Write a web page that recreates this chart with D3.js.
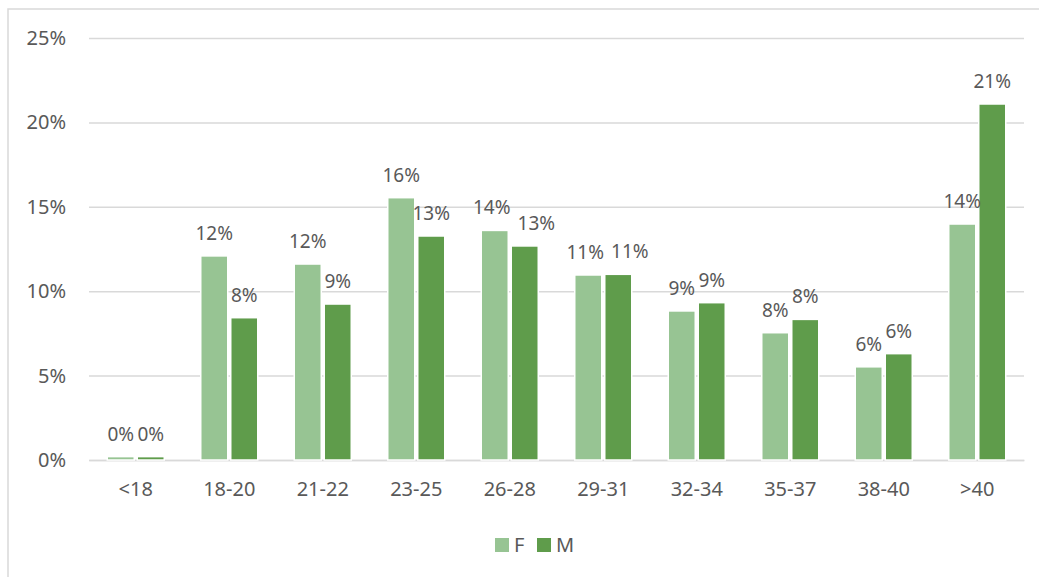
<!DOCTYPE html>
<html>
<head>
<meta charset="utf-8">
<script src="https://cdn.jsdelivr.net/npm/d3@7"></script>
<style>
  body { margin: 0; background: #fff; }
  svg { display: block; font-family: "Noto Sans", "Open Sans", sans-serif; }
</style>
</head>
<body>
<svg id="chart" width="1039" height="577"></svg>
<script>
const categories = ["<18", "18-20", "21-22", "23-25", "26-28", "29-31", "32-34", "35-37", "38-40", ">40"];
const seriesF = [0.20, 12.09, 11.61, 15.54, 13.60, 10.96, 8.83, 7.54, 5.52, 13.98];
const seriesM = [0.20, 8.43, 9.24, 13.27, 12.68, 11.00, 9.32, 8.33, 6.30, 21.09];
const yTicks = [0, 5, 10, 15, 20, 25];

const series = [
  { key: "F", values: seriesF, color: "#97c493" },
  { key: "M", values: seriesM, color: "#5f9c4b" },
];

const svg = d3.select("#chart");
const TEXT = "#595959";
const GRID = "#d9d9d9";

// outer chart border (right/bottom edges fall outside the window)
svg.append("rect")
  .attr("x", 8).attr("y", 9)
  .attr("width", 1050).attr("height", 590)
  .attr("fill", "none")
  .attr("stroke", GRID)
  .attr("stroke-width", 1.5);

const plot = { left: 89, right: 1024, top: 38, bottom: 460 };

const x = d3.scaleBand()
  .domain(categories)
  .range([plot.left, plot.right]);

const x1 = d3.scaleBand()
  .domain(series.map(s => s.key))
  .range([0, 54])
  .paddingInner(0.2);

const y = d3.scaleLinear()
  .domain([0, 25])
  .range([plot.bottom, plot.top]);

// gridlines + y labels
const yAxis = d3.axisLeft(y)
  .tickValues(yTicks)
  .tickSize(-(plot.right - plot.left))
  .tickPadding(23)
  .tickFormat(d => d + "%");

const yg = svg.append("g")
  .attr("transform", `translate(${plot.left},0)`)
  .call(yAxis);
yg.select(".domain").remove();
yg.selectAll(".tick line").attr("stroke", GRID).attr("stroke-width", 1.5);
yg.selectAll(".tick text")
  .attr("fill", TEXT)
  .style("font-size", "20px")
  .style("font-family", "Noto Sans, sans-serif");

// x labels
const xAxis = d3.axisBottom(x).tickSize(0).tickPadding(22);
const xg = svg.append("g")
  .attr("transform", `translate(0,${plot.bottom})`)
  .call(xAxis);
xg.select(".domain").attr("stroke", GRID).attr("stroke-width", 1.5);
xg.selectAll(".tick text")
  .attr("fill", TEXT)
  .style("font-size", "20px")
  .style("font-family", "Noto Sans, sans-serif");

// bars
const groupOffset = (x.bandwidth() - 54) / 2;
const barGroup = svg.append("g");
const labelGroup = svg.append("g");

categories.forEach((c, i) => {
  const labels = series.map(s => {
    const v = s.values[i];
    const bx = x(c) + groupOffset + x1(s.key);
    barGroup.append("rect")
      .attr("x", bx - 1.5)
      .attr("y", y(v))
      .attr("width", x1.bandwidth() + 3)
      .attr("height", y(0) - y(v))
      .attr("fill", s.color)
      .attr("stroke", "#fff")
      .attr("stroke-width", 1.5);

    return labelGroup.append("text")
      .attr("x", bx + x1.bandwidth() / 2)
      .attr("y", y(v) - 16)
      .attr("text-anchor", "middle")
      .attr("fill", TEXT)
      .style("font-size", "19px")
      .text(Math.round(v) + "%");
  });

  // push apart labels that sit at the same height and collide
  const a = labels[0].node().getBBox();
  const b = labels[1].node().getBBox();
  const sameRow = Math.abs(a.y - b.y) < a.height * 0.6;
  const overlap = a.x + a.width - b.x;
  if (sameRow && overlap > 0) {
    labels[0].attr("dx", -3);
    labels[1].attr("dx", overlap + 4);
  }
});

// legend
const legend = svg.append("g").attr("transform", "translate(495,538)");
series.forEach((s, i) => {
  const g = legend.append("g").attr("transform", `translate(${i * 42},0)`);
  g.append("rect")
    .attr("width", 14).attr("height", 14)
    .attr("fill", s.color);
  g.append("text")
    .attr("x", 19).attr("y", 14)
    .attr("fill", TEXT)
    .style("font-size", "20px")
    .text(s.key);
});
</script>
</body>
</html>
